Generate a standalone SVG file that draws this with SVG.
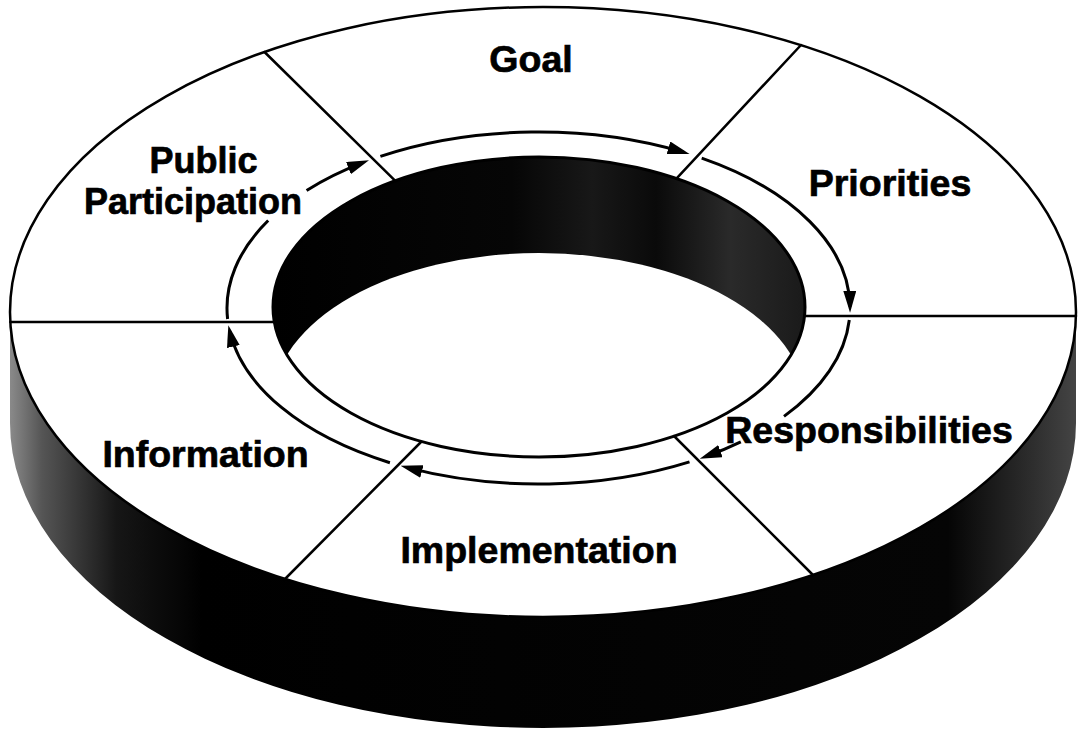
<svg xmlns="http://www.w3.org/2000/svg" width="1078" height="734" viewBox="0 0 1078 734">
<defs>
<style>
.label{font-family:"Liberation Sans",Arial,Helvetica,sans-serif;font-weight:bold;font-size:37.5px;fill:#000;stroke:#000;stroke-width:0.7;text-anchor:middle}
.small{font-size:36px}
.div{stroke:#000;stroke-width:2.5;fill:none;stroke-linecap:round}
.flow{stroke:#000;stroke-width:3;fill:none}
.head{marker-end:url(#arrow)}
</style>
<linearGradient id="sideGrad" gradientUnits="userSpaceOnUse" x1="10" y1="0" x2="1076" y2="0">
<stop offset="0" stop-color="#8a8a8a"/>
<stop offset="0.03" stop-color="#555"/>
<stop offset="0.1" stop-color="#161616"/>
<stop offset="0.18" stop-color="#000"/>
<stop offset="0.88" stop-color="#050505"/>
<stop offset="0.96" stop-color="#2e2e2e"/>
<stop offset="1" stop-color="#444"/>
</linearGradient>
<linearGradient id="wallGrad" gradientUnits="userSpaceOnUse" x1="273" y1="0" x2="805" y2="0">
<stop offset="0" stop-color="#000"/>
<stop offset="0.45" stop-color="#060606"/>
<stop offset="0.6" stop-color="#181818"/>
<stop offset="0.72" stop-color="#0a0a0a"/>
<stop offset="0.86" stop-color="#2a2a2a"/>
<stop offset="1" stop-color="#1a1a1a"/>
</linearGradient>
<clipPath id="holeClip"><ellipse cx="539" cy="307" rx="266" ry="150"/></clipPath>
<marker id="arrow" markerUnits="userSpaceOnUse" viewBox="0 0 22 13" markerWidth="22" markerHeight="13" refX="16" refY="6.5" orient="auto">
<path d="M0,0 L22,6.5 L0,13 Z" fill="#000"/>
</marker>
</defs>
<rect x="0" y="0" width="1078" height="734" fill="#fff"/>
<g id="ring-body">
<path d="M10,312 L10,423 A533,305 0 0 0 1076,423 L1076,312 Z" fill="url(#sideGrad)"/>
<ellipse cx="543" cy="312" rx="533" ry="305" fill="#fff" stroke="#000" stroke-width="2.5"/>
<ellipse cx="539" cy="307" rx="266" ry="150" fill="url(#wallGrad)"/>
<ellipse cx="539" cy="403" rx="266" ry="150" fill="#fff" clip-path="url(#holeClip)"/>
<ellipse cx="539" cy="307" rx="266" ry="150" fill="none" stroke="#000" stroke-width="3"/>
</g>
<g id="connectors">
<g id="dividers">
<path class="div" d="M264.5,52 L395.3,180.8"/>
<path class="div" d="M801,45 L676.4,178.6"/>
<path class="div" d="M804.5,316 L1076,316"/>
<path class="div" d="M674,436 L813,575"/>
<path class="div" d="M421,442 L284,580"/>
<path class="div" d="M274.3,322 L10.3,322"/>
</g>
<g id="cycle-arrows">
<path class="flow head" d="M306.6,190.5 A311.5,176 0 0 1 363.4,162.4"/>
<path class="flow head" d="M380.4,156.4 A311.5,176 0 0 1 683.8,152.3"/>
<path class="flow head" d="M701.7,158.1 A311.5,176 0 0 1 850,306.8"/>
<path class="flow" d="M849.3,320 A311.5,176 0 0 1 784,416.4"/>
<path class="flow head" d="M740.8,441.8 A311.5,176 0 0 1 705.4,456.6"/>
<path class="flow head" d="M689.5,461.9 A311.5,176 0 0 1 406.4,467.4"/>
<path class="flow head" d="M389.9,462.7 A311.5,176 0 0 1 229.7,331"/>
<path class="flow" d="M227.6,319 A311.5,176 0 0 1 268.2,220.5"/>
</g>
</g>
<g id="node-goal"><text class="label" x="531" y="72">Goal</text></g>
<g id="node-priorities"><text class="label" x="890" y="196">Priorities</text></g>
<g id="node-responsibilities"><text class="label" x="869" y="443">Responsibilities</text></g>
<g id="node-implementation"><text class="label" x="539" y="563">Implementation</text></g>
<g id="node-information"><text class="label" x="205.5" y="467">Information</text></g>
<g id="node-public-participation"><text class="label small" x="203.5" y="173">Public</text><text class="label small" x="193" y="214">Participation</text></g>
</svg>
